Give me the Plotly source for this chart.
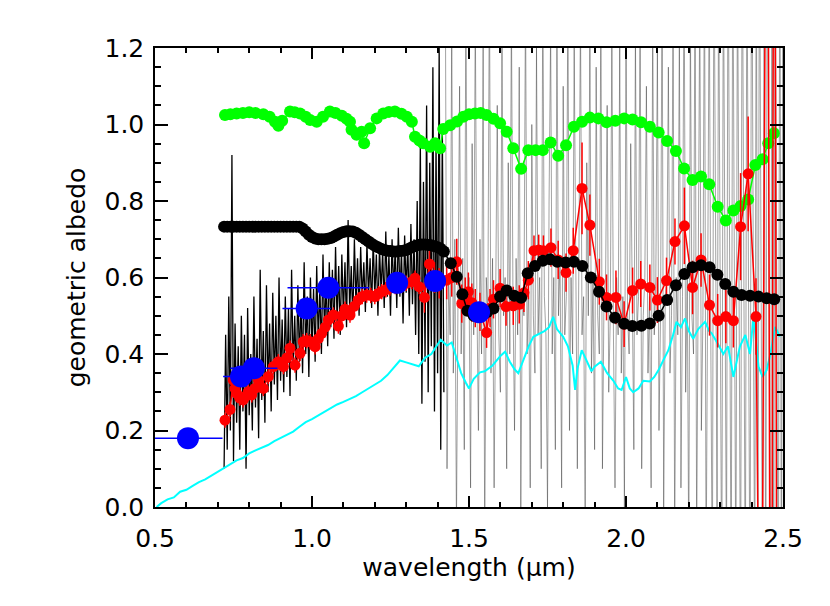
import numpy as np
import plotly.graph_objects as go

# ---- noisy spectrum (thin lines), sampled every 0.005 um ----
spec_x0_dark = 0.72
spec_y_dark = [
    0.10, 0.45, 0.15, 0.55, 0.20, 0.92, 0.12, 0.48, 0.22, 0.42, 0.15, 0.50,
    0.25, 0.45, 0.10, 0.52, 0.24, 0.40, 0.20, 0.55, 0.26, 0.44, 0.18, 0.62,
    0.28, 0.46, 0.22, 0.58, 0.30, 0.48, 0.25, 0.56, 0.32, 0.50, 0.28, 0.60,
    0.33, 0.49, 0.30, 0.55, 0.34, 0.52, 0.29, 0.62, 0.36, 0.50, 0.33, 0.58,
    0.38, 0.54, 0.35, 0.64, 0.40, 0.55, 0.34, 0.60, 0.41, 0.57, 0.38, 0.63,
    0.43, 0.58, 0.40, 0.66, 0.45, 0.60, 0.42, 0.64, 0.47, 0.62, 0.44, 0.68,
    0.48, 0.63, 0.45, 0.66, 0.50, 0.64, 0.47, 0.75, 0.51, 0.63, 0.49, 0.70,
    0.53, 0.65, 0.50, 0.68, 0.54, 0.64, 0.51, 0.69, 0.55, 0.65, 0.52, 0.70,
    0.55, 0.66, 0.50, 0.68, 0.56, 0.67, 0.52, 0.72, 0.55, 0.66, 0.50, 0.70,
    0.56, 0.68, 0.52, 0.73, 0.55, 0.67, 0.48, 0.71, 0.56, 0.69, 0.50, 0.74,
    0.53, 0.70, 0.45, 0.80, 0.40, 0.95, 0.27, 0.85, 0.38, 1.05, 0.30, 0.90,
    0.42, 1.15, 0.25, 0.95, 0.35, 1.20, 0.15, 1.00, 0.30,
]
spec_x0_grey = 1.425
spec_y_grey = [
    1.30, 0.10, 0.60, 0.45, 1.25, 0.35, 0.70, -0.05, 0.55, 1.10, 0.40, 0.65,
    0.15, 1.35, 0.50, 0.60, 0.05, 0.95, 0.45, 1.30, 0.55, 0.20, 0.70, 0.40,
    1.20, -0.10, 0.60, 0.50, 1.40, 0.35, 0.65, 0.05, 0.55, 1.05, 0.45, 0.30,
    1.25, 0.50, 0.60, 0.10, 0.90, 0.40, 1.30, 0.55, 0.20, 0.65, 0.45, 1.15,
    0.00, 0.55, 0.50, 1.35, 0.40, 0.60, 0.05, 1.00, 0.50, 0.35, 1.20, 0.45,
    0.60, 0.10, 1.40, 0.55, 0.45, 0.00, 0.80, 1.25, 0.40, 0.60, 0.15, 1.30,
    0.50, 0.65, 0.05, 1.10, 0.45, 0.55, 1.35, 0.20, 0.60, 0.40, 1.20, 0.50,
    0.10, 0.65, 1.30, 0.45, 0.55, -0.05, 0.90, 0.50, 1.25, 0.35, 0.60, 0.15,
    1.15, 0.50, 0.40, 1.35, 0.10, 0.55, 0.60, 1.05, 0.30, 0.50, 1.25, 0.45,
    0.05, 0.60, 0.45, 1.20, 0.35, 0.55, 0.00, 1.30, 0.50, 0.40, 0.95, 0.55,
    0.15, 1.25, 0.45, 0.55, 1.35, 0.10, 0.50, 0.60, 1.10, 0.35, 0.55, 0.05,
    1.30, 0.45, 0.60, 1.20, 0.20, 0.50, 1.40, 0.00, 0.55, 0.60, 1.15, 0.35,
    0.50, 1.35, -0.10, 0.60, 0.45, 1.25, 0.05, 0.55, 1.45, 0.30, 0.60, -0.15,
    1.30, 0.50, 0.40, 1.45, -0.10, 0.60, 1.35, 0.20, 0.50, 1.50, -0.20, 0.55,
    1.40, 0.45, -0.25, 1.55, 0.60, 0.00, 1.45, 0.40, -0.30, 1.50, 0.55, -0.20,
    1.60, 0.45, -0.30, 1.55, 0.60, -0.25, 1.50, 0.35, -0.35, 1.65, 0.50, -0.30,
    1.55, 0.40, -0.35, 1.70, 0.55, -0.30, 1.60, -0.40, 1.65, 0.45, -0.35, 1.60,
    -0.40, 1.70, 0.50, -0.35, 1.65, -0.45, 1.60, 0.40, -0.40, 1.70, -0.35, 1.65,
]
spec_step = 0.005

# ---- cyan model ----
cyan_x = [0.505, 0.52, 0.54, 0.56, 0.58, 0.60, 0.62, 0.64, 0.66, 0.68,
          0.70, 0.72, 0.74, 0.76, 0.78, 0.80, 0.82, 0.84, 0.86, 0.88,
          0.90, 0.92, 0.94, 0.96, 0.98, 1.00, 1.02, 1.04, 1.06, 1.08,
          1.10, 1.12, 1.14, 1.16, 1.18, 1.20, 1.22, 1.24, 1.26, 1.28,
          1.30, 1.32, 1.34, 1.36, 1.38, 1.40, 1.41, 1.43, 1.445, 1.46,
          1.475, 1.49, 1.50, 1.515, 1.535, 1.55, 1.575, 1.60, 1.615, 1.63,
          1.645, 1.657, 1.675, 1.69, 1.705, 1.72, 1.74, 1.755, 1.768, 1.78,
          1.80, 1.815, 1.83, 1.838, 1.845, 1.859, 1.875, 1.89, 1.90, 1.92,
          1.94, 1.96, 1.975, 1.986, 2.00, 2.012, 2.023, 2.04, 2.055, 2.076,
          2.09, 2.105, 2.119, 2.135, 2.15, 2.161, 2.175, 2.188, 2.20, 2.214,
          2.23, 2.252, 2.265, 2.273, 2.29, 2.31, 2.325, 2.342, 2.355, 2.363,
          2.38, 2.395, 2.406, 2.415, 2.422, 2.435, 2.448, 2.46, 2.475, 2.49]
cyan_y = [0.0, 0.01, 0.02, 0.025, 0.04, 0.045, 0.055, 0.065, 0.072, 0.082,
          0.092, 0.10, 0.112, 0.122, 0.128, 0.14, 0.148, 0.155, 0.162, 0.172,
          0.18, 0.19, 0.197, 0.21, 0.222, 0.23, 0.24, 0.25, 0.26, 0.268,
          0.275, 0.282, 0.29, 0.30, 0.31, 0.318, 0.33, 0.345, 0.365, 0.383,
          0.378, 0.372, 0.368, 0.39, 0.40, 0.425, 0.437, 0.422, 0.43, 0.39,
          0.35, 0.325, 0.31, 0.335, 0.352, 0.355, 0.37, 0.395, 0.406, 0.38,
          0.36, 0.35, 0.39, 0.42, 0.445, 0.452, 0.46, 0.47, 0.497, 0.465,
          0.445, 0.42, 0.37, 0.306, 0.36, 0.41, 0.38, 0.355, 0.367, 0.38,
          0.35, 0.33, 0.31, 0.306, 0.34, 0.31, 0.30, 0.31, 0.33, 0.328,
          0.34, 0.36, 0.384, 0.41, 0.45, 0.484, 0.47, 0.493, 0.46, 0.44,
          0.465, 0.484, 0.46, 0.454, 0.43, 0.40, 0.42, 0.34, 0.39, 0.42,
          0.45, 0.40, 0.50, 0.43, 0.367, 0.34, 0.358, 0.40, 0.471, 0.445]

# ---- green ----
green_x = [0.723, 0.74, 0.76, 0.78, 0.80, 0.82, 0.845, 0.865, 0.882, 0.893,
           0.905, 0.93, 0.945, 0.962, 0.98, 0.994, 1.015, 1.035, 1.057, 1.075,
           1.095, 1.11, 1.121, 1.126, 1.142, 1.158, 1.166, 1.185, 1.206, 1.227,
           1.245, 1.264, 1.285, 1.302, 1.318, 1.328, 1.342, 1.354, 1.376, 1.392,
           1.408, 1.418, 1.44, 1.462, 1.482, 1.50, 1.519, 1.537, 1.556, 1.578,
           1.599, 1.62, 1.641, 1.666, 1.689, 1.712, 1.735, 1.760, 1.784, 1.809,
           1.834, 1.86, 1.885, 1.912, 1.938, 1.966, 1.994, 2.021, 2.048, 2.076,
           2.104, 2.131, 2.159, 2.185, 2.212, 2.239, 2.265, 2.292, 2.318, 2.342,
           2.365, 2.389, 2.412, 2.435, 2.453, 2.471]
green_y = [1.025, 1.027, 1.029, 1.03, 1.032, 1.03, 1.027, 1.02, 1.007, 0.997,
           1.01, 1.034, 1.032, 1.029, 1.02, 1.012, 1.007, 1.02, 1.034, 1.03,
           1.023, 1.015, 1.007, 0.986, 0.973, 0.981, 0.951, 0.99, 1.016, 1.029,
           1.033, 1.034, 1.028, 1.02, 1.007, 0.968, 0.958, 0.951, 0.942, 0.951,
           0.938, 0.988, 0.998, 1.008, 1.02, 1.027, 1.029, 1.03, 1.025, 1.015,
           1.003, 0.981, 0.938, 0.884, 0.933, 0.933, 0.933, 0.953, 0.918, 0.946,
           0.994, 1.007, 1.018, 1.016, 1.006, 1.01, 1.016, 1.013, 1.006, 0.994,
           0.979, 0.957, 0.931, 0.885, 0.855, 0.864, 0.844, 0.785, 0.749, 0.775,
           0.787, 0.804, 0.894, 0.909, 0.951, 0.977]

# ---- black model ----
black_x_dense = np.round(np.arange(0.72, 1.425, 0.01), 3)
black_y_dense = [
    0.733, 0.733, 0.733, 0.733, 0.733, 0.733, 0.733, 0.733, 0.733, 0.733,
    0.733, 0.733, 0.733, 0.733, 0.733, 0.733, 0.733, 0.733, 0.733, 0.733,
    0.733, 0.733, 0.733, 0.733, 0.733,
    0.728, 0.72, 0.712, 0.706, 0.702, 0.70, 0.70, 0.70, 0.701, 0.703,
    0.707, 0.712, 0.716, 0.719, 0.721, 0.721, 0.72, 0.717, 0.712, 0.706,
    0.70, 0.694, 0.688, 0.683, 0.679, 0.675, 0.672, 0.67, 0.669, 0.668,
    0.668, 0.669, 0.670, 0.672, 0.676, 0.680, 0.683, 0.685, 0.686, 0.686,
    0.685, 0.684, 0.682, 0.679, 0.675, 0.668,
]
black_x_sparse = [1.442, 1.461, 1.479, 1.495, 1.515, 1.537, 1.558, 1.578, 1.599, 1.62,
                  1.644, 1.666, 1.687, 1.71, 1.735, 1.758, 1.781, 1.808, 1.834, 1.861,
                  1.888, 1.914, 1.938, 1.965, 1.994, 2.02, 2.049, 2.076, 2.104, 2.131,
                  2.159, 2.186, 2.212, 2.239, 2.266, 2.291, 2.316, 2.342, 2.368, 2.395,
                  2.422, 2.448, 2.472]
black_y_sparse = [0.637, 0.602, 0.556, 0.513, 0.50, 0.505, 0.51, 0.519, 0.55, 0.566,
                  0.552, 0.547, 0.611, 0.63, 0.644, 0.648, 0.641, 0.639, 0.641, 0.63,
                  0.60, 0.563, 0.524, 0.495, 0.479, 0.473, 0.474, 0.48, 0.50, 0.541,
                  0.58, 0.609, 0.627, 0.632, 0.627, 0.607, 0.583, 0.563, 0.554, 0.552,
                  0.55, 0.546, 0.543]

# ---- red measured ----
red_x = [0.723, 0.739, 0.749, 0.755, 0.76, 0.77, 0.781, 0.79, 0.797, 0.808,
         0.818, 0.829, 0.845, 0.861, 0.877, 0.893, 0.909, 0.92, 0.93, 0.946,
         0.962, 0.972, 0.983, 0.994, 1.01, 1.02, 1.031, 1.042, 1.052, 1.068,
         1.084, 1.095, 1.105, 1.121, 1.135, 1.147, 1.16, 1.174, 1.187, 1.2,
         1.212, 1.222, 1.235, 1.248, 1.265, 1.286, 1.30, 1.318, 1.328, 1.341,
         1.358, 1.374, 1.39, 1.405, 1.429, 1.445, 1.461, 1.477, 1.488, 1.498,
         1.509, 1.52, 1.535, 1.556, 1.567, 1.578, 1.599, 1.618, 1.641, 1.66,
         1.675, 1.689, 1.707, 1.722, 1.737, 1.761, 1.784, 1.809, 1.832, 1.86,
         1.885, 1.915, 1.938, 1.968, 1.994, 2.021, 2.047, 2.076, 2.10, 2.129,
         2.156, 2.186, 2.212, 2.239, 2.266, 2.292, 2.318, 2.342, 2.365, 2.389,
         2.414, 2.43, 2.45, 2.462, 2.472, 2.482]
red_y = [0.227, 0.255, 0.332, 0.31, 0.297, 0.285, 0.28, 0.29, 0.301, 0.293,
         0.31, 0.332, 0.31, 0.341, 0.367, 0.38, 0.367, 0.39, 0.415, 0.371,
         0.402, 0.432, 0.435, 0.432, 0.419, 0.44, 0.454, 0.47, 0.489, 0.502,
         0.473, 0.50, 0.517, 0.502, 0.525, 0.541, 0.55, 0.554, 0.553, 0.55,
         0.558, 0.563, 0.568, 0.572, 0.576, 0.58, 0.585, 0.589, 0.598, 0.576,
         0.548, 0.635, 0.60, 0.585, 0.593, 0.60, 0.641, 0.532, 0.55, 0.563,
         0.534, 0.52, 0.51, 0.456, 0.52, 0.543, 0.572, 0.524, 0.526, 0.53,
         0.56, 0.593, 0.67, 0.672, 0.67, 0.678, 0.646, 0.613, 0.67, 0.833,
         0.737, 0.589, 0.548, 0.548, 0.478, 0.566, 0.583, 0.574, 0.541, 0.592,
         0.694, 0.735, 0.574, 0.646, 0.528, 0.487, 0.498, 0.487, 0.733, 0.871,
         0.498, -0.9, 2.5, -1.5, 2.5, -1.0]
red_err = [0.02, 0.02, 0.02, 0.02, 0.02, 0.02, 0.02, 0.02, 0.02, 0.02,
           0.02, 0.02, 0.02, 0.02, 0.02, 0.02, 0.02, 0.02, 0.02, 0.02,
           0.02, 0.02, 0.02, 0.02, 0.02, 0.02, 0.02, 0.02, 0.02, 0.02,
           0.02, 0.02, 0.02, 0.02, 0.02, 0.02, 0.02, 0.02, 0.02, 0.02,
           0.02, 0.02, 0.02, 0.02, 0.02, 0.02, 0.02, 0.02, 0.02, 0.02,
           0.04, 0.05, 0.04, 0.04, 0.05, 0.05, 0.06, 0.05, 0.05, 0.05,
           0.05, 0.05, 0.05, 0.04, 0.05, 0.05, 0.05, 0.05, 0.05, 0.05,
           0.05, 0.05, 0.04, 0.04, 0.04, 0.05, 0.05, 0.05, 0.06, 0.12,
           0.08, 0.06, 0.06, 0.07, 0.06, 0.06, 0.06, 0.06, 0.06, 0.06,
           0.06, 0.10, 0.07, 0.07, 0.08, 0.07, 0.07, 0.07, 0.14, 0.15,
           0.10, 0.0, 0.0, 0.0, 0.0, 0.0]

# ---- blue broadband points ----
blue_x = [0.605, 0.774, 0.815, 0.983, 1.052, 1.271, 1.392, 1.532]
blue_y = [0.180, 0.341, 0.363, 0.519, 0.573, 0.586, 0.591, 0.509]
blue_xerr = [0.11, 0.057, 0.075, 0.077, 0.13, 0.0, 0.0, 0.0]

spec_x_dark = np.round(spec_x0_dark + spec_step * np.arange(len(spec_y_dark)), 4)
spec_x_grey = np.round(spec_x0_grey + spec_step * np.arange(len(spec_y_grey)), 4)

fig = go.Figure()

fig.add_trace(go.Scatter(x=spec_x_grey, y=spec_y_grey, mode="lines",
                         line=dict(color="rgba(60,60,60,0.6)", width=0.8)))
fig.add_trace(go.Scatter(x=spec_x_dark, y=spec_y_dark, mode="lines",
                         line=dict(color="#000000", width=1.3)))
fig.add_trace(go.Scatter(x=cyan_x, y=cyan_y, mode="lines",
                         line=dict(color="#00FFFF", width=2)))
fig.add_trace(go.Scatter(x=green_x, y=green_y, mode="lines+markers",
                         line=dict(color="#00FF00", width=1.5),
                         marker=dict(color="#00FF00", size=12)))
fig.add_trace(go.Scatter(x=red_x, y=red_y, mode="lines+markers",
                         line=dict(color="#FF0000", width=1.5),
                         marker=dict(color="#FF0000", size=11),
                         error_y=dict(type="data", array=red_err, color="#FF0000",
                                      thickness=1.5, width=0)))
fig.add_trace(go.Scatter(x=np.concatenate([black_x_dense, black_x_sparse]),
                         y=list(black_y_dense) + list(black_y_sparse),
                         mode="lines+markers",
                         line=dict(color="#000000", width=1.5),
                         marker=dict(color="#000000", size=12)))
fig.add_trace(go.Scatter(x=blue_x, y=blue_y, mode="markers",
                         marker=dict(color="#0000FF", size=22),
                         error_x=dict(type="data", array=blue_xerr, color="#0000FF",
                                      thickness=1.5, width=0)))

FONT = "DejaVu Sans"
axis_common = dict(
    showline=True, linecolor="black", linewidth=1.5, mirror="ticks",
    ticks="inside", tickwidth=1.5, tickcolor="black",
    showgrid=False, zeroline=False,
    tickfont=dict(family=FONT, size=25, color="black"),
)

fig.update_xaxes(range=[0.5, 2.5], dtick=0.5, tick0=0.5, tickformat=".1f",
                 ticklen=11, ticklabelstandoff=8,
                 minor=dict(ticks="inside", dtick=0.1, ticklen=5, tickwidth=1.5,
                            tickcolor="black"),
                 title=dict(text="wavelength (μm)", standoff=4,
                            font=dict(family=FONT, size=25, color="black")),
                 **axis_common)
fig.update_yaxes(range=[0, 1.2], dtick=0.2, tick0=0, tickformat=".1f",
                 ticklen=13, ticklabelstandoff=4,
                 minor=dict(ticks="inside", dtick=0.05, ticklen=6, tickwidth=1.5,
                            tickcolor="black"),
                 title=dict(text="geometric albedo", standoff=12,
                            font=dict(family=FONT, size=25, color="black")),
                 **axis_common)

fig.update_layout(
    width=830, height=606,
    margin=dict(l=147, r=55, t=40, b=107),
    paper_bgcolor="white", plot_bgcolor="white",
    showlegend=False,
)

fig.write_html("out.html")
